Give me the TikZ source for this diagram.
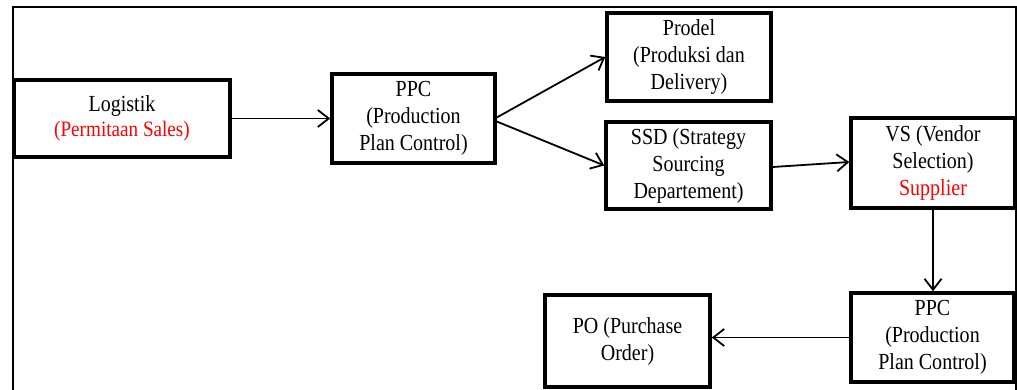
\documentclass[tikz,border=0pt]{standalone}
\usepackage{fontspec}
\setmainfont{Liberation Serif}[FakeStretch=0.87]
\usetikzlibrary{arrows.meta}
\begin{document}
\begin{tikzpicture}[x=1pt,y=-1pt,
  box/.style={draw, line width=3.5pt, align=center, inner sep=0pt,
    font=\fontsize{23}{27}\selectfont},
  flow/.style={line width=1.8pt,
    -{Straight Barb[length=11pt,width=17pt,line width=1.8pt]}},
]
\useasboundingbox (0,0) rectangle (1017,390);
\clip (0,0) rectangle (1017,390);
% open frame around the flow
\draw[line width=2.5pt] (13,400) -- (13,7) -- (1016,7) -- (1016,400);

% process boxes
\node[box, minimum width=216pt, minimum height=77pt] (log) at (122,118.5)
  {Logistik\\[-2pt]{\color{red}\fontsize{22}{25}\selectfont(Permitaan Sales)}};
\node[box, minimum width=163pt, minimum height=89pt] (ppc1) at (413.5,118.5)
  {PPC\\(Production\\Plan Control)};
\node[box, minimum width=164pt, minimum height=88pt] (prodel) at (689,57)
  {Prodel\\(Produksi dan\\Delivery)};
\node[box, minimum width=165pt, minimum height=87pt] (ssd) at (688.5,165.5)
  {SSD (Strategy\\Sourcing\\Departement)};
\node[box, minimum width=164pt, minimum height=90pt] (vs) at (933,163)
  {VS (Vendor\\Selection)\\{\color{red}Supplier}};
\node[box, minimum width=163pt, minimum height=89pt] (ppc2) at (932.5,337.5)
  {PPC\\(Production\\Plan Control)};
\node[box, minimum width=165pt, minimum height=92pt] (po) at (627.5,341)
  {PO (Purchase\\Order)};

% connectors
\draw[flow] (log) -- (ppc1);
\draw[flow] ([yshift=1pt]ppc1.east) -- (prodel.west);
\draw[flow] ([yshift=-3pt]ppc1.east) -- (ssd.west);
\draw[flow] ([yshift=-1.5pt]ssd.east) -- ([yshift=1pt]vs.west);
\draw[flow] (vs.south) -- (vs.south |- ppc2.north);
\draw[flow] (ppc2.west) -- (po.east |- ppc2.west);
\end{tikzpicture}
\end{document}
